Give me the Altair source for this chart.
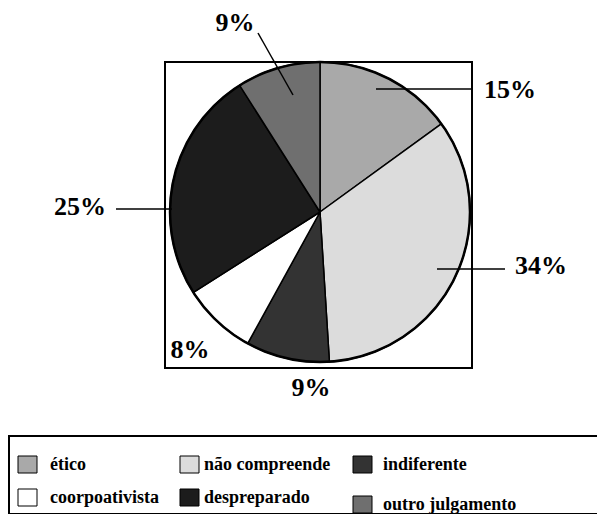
import altair as alt
import pandas as pd

# ---- data ----
categories = ["ético", "não compreende", "indiferente",
              "coorpoativista", "despreparado", "outro julgamento"]
percents = [15, 34, 9, 8, 25, 9]
pct_labels = ["15%", "34%", "9%", "8%", "25%", "9%"]
colors = ["#a9a9a9", "#dcdcdc", "#333333", "#ffffff", "#1c1c1c", "#6f6f6f"]

# ---- layout (pixel positions inside the svg) ----
W, H = 589, 506
CX, CY, R = 312, 204, 150
label_pos = [(502, 82), (533, 258), (303, 380), (182, 342), (72, 199), (227, 15)]
leader_lines = [((368, 81), (464, 81)), ((429, 261), (497, 261)), None, None,
                ((108, 201), (164, 201)), ((285, 87), (250, 25))]
leg_swatch_x = [10, 172, 345]
leg_text_x = [42, 196, 375]
leg_row_y = [456, 489]
leg_text_y = [462, 495]

xs = alt.Scale(domain=[0, W], range=[0, W])
ys = alt.Scale(domain=[0, H], range=[0, H])
cscale = alt.Scale(domain=categories, range=colors)

pie_df = pd.DataFrame({"cat": categories, "pct": percents, "idx": list(range(len(categories)))})

pie = alt.Chart(pie_df).mark_arc(outerRadius=R, stroke="black", strokeWidth=1.5).encode(
    theta=alt.Theta("pct:Q", stack=True),
    order=alt.Order("idx:Q"),
    color=alt.Color("cat:N", scale=cscale, legend=None),
    x=alt.value(CX), y=alt.value(CY),
)

one = pd.DataFrame({"a": [0]})
rim = alt.Chart(one).mark_arc(
    outerRadius=R, fillOpacity=0, stroke="black", strokeWidth=2.5).encode(
    theta=alt.value(0), theta2=alt.value(6.2832), x=alt.value(CX), y=alt.value(CY))

box = alt.Chart(one).mark_rect(fillOpacity=0, stroke="black", strokeWidth=2).encode(
    x=alt.value(157), x2=alt.value(464), y=alt.value(54), y2=alt.value(360))

lab_df = pd.DataFrame({
    "t": pct_labels,
    "x": [p[0] for p in label_pos],
    "y": [p[1] for p in label_pos],
})
labels = alt.Chart(lab_df).mark_text(font="Liberation Serif", fontWeight="bold", fontSize=26,
                                     align="center", baseline="middle", color="black").encode(
    x=alt.X("x:Q", scale=xs, axis=None), y=alt.Y("y:Q", scale=ys, axis=None), text="t:N")

ll = [l for l in leader_lines if l is not None]
lead_df = pd.DataFrame({
    "x1": [l[0][0] for l in ll], "y1": [l[0][1] for l in ll],
    "x2": [l[1][0] for l in ll], "y2": [l[1][1] for l in ll],
})
leaders = alt.Chart(lead_df).mark_rule(color="black", strokeWidth=1.5).encode(
    x=alt.X("x1:Q", scale=xs, axis=None), y=alt.Y("y1:Q", scale=ys, axis=None),
    x2="x2:Q", y2="y2:Q")

# legend
leg_rows = []
for i, c in enumerate(categories):
    r, col = divmod(i, 3)
    extra = 7 if (r == 1 and col == 2) else 0
    sy = leg_row_y[r] + extra
    leg_rows.append({"cat": c, "sx": leg_swatch_x[col], "sx2": leg_swatch_x[col] + 19,
                     "sy": sy - 8, "sy2": sy + 9,
                     "tx": leg_text_x[col], "ty": leg_text_y[r] + extra})
leg_df = pd.DataFrame(leg_rows)

leg_box = alt.Chart(one).mark_rect(fillOpacity=0, stroke="black", strokeWidth=2).encode(
    x=alt.value(1), x2=alt.value(W + 40), y=alt.value(428), y2=alt.value(506))

swatches = alt.Chart(leg_df).mark_rect(stroke="black", strokeWidth=1).encode(
    x=alt.X("sx:Q", scale=xs, axis=None), x2="sx2:Q",
    y=alt.Y("sy:Q", scale=ys, axis=None), y2="sy2:Q",
    color=alt.Color("cat:N", scale=cscale, legend=None))

leg_text = alt.Chart(leg_df).mark_text(font="Liberation Serif", fontWeight="bold", fontSize=18,
                                       align="left", baseline="alphabetic", color="black").encode(
    x=alt.X("tx:Q", scale=xs, axis=None), y=alt.Y("ty:Q", scale=ys, axis=None), text="cat:N")

chart = alt.layer(pie, rim, box, leaders, labels, leg_box, swatches, leg_text).properties(
    width=W, height=H, padding=0, autosize=alt.AutoSizeParams(type="none"),
    background="white",
).configure_view(stroke=None)

chart.save("out.html", embed_options={"renderer": "svg", "actions": False})
